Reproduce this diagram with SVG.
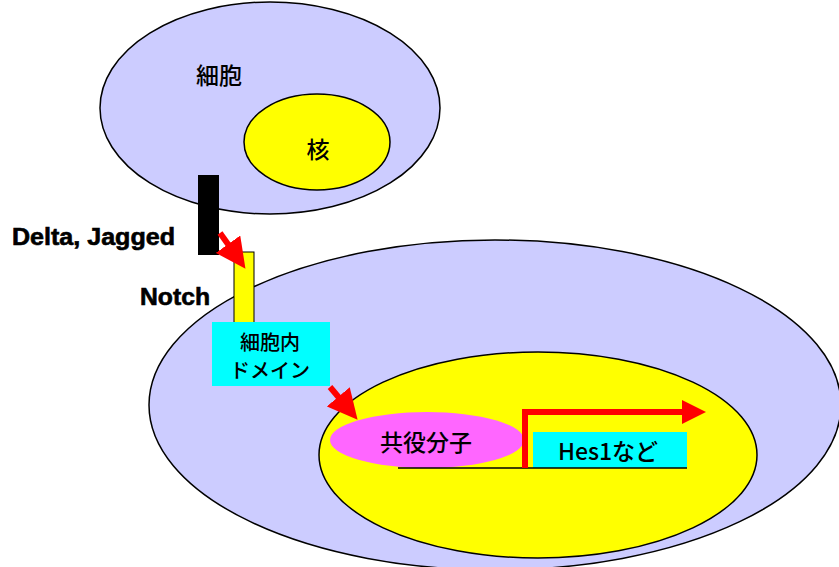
<svg xmlns="http://www.w3.org/2000/svg" width="839" height="567" viewBox="0 0 839 567">
<defs>
<style>
.cell{fill:#ccccff;stroke:#000;stroke-width:1.5}
.nuc{fill:#ffff00;stroke:#000;stroke-width:1.5}
.jp{font-family:"Noto Sans CJK JP","Noto Sans",sans-serif;font-size:23px;font-weight:500;fill:#000;text-anchor:middle}
.sm{font-size:20px}
.lbl{font-family:"Liberation Sans",Arial,sans-serif;font-weight:bold;font-size:23px;fill:#000;stroke:#000;stroke-width:0.6}
.red{stroke:#ff0000;stroke-width:6;fill:none}
</style>
<marker id="ah" markerWidth="5" markerHeight="5" refX="2" refY="2.5" orient="auto" markerUnits="strokeWidth">
<path d="M0,0 L5,2.5 L0,5 Z" fill="#ff0000"/>
</marker>
<marker id="ah2" markerWidth="4" markerHeight="4" refX="1" refY="2" orient="auto" markerUnits="strokeWidth">
<path d="M0,0 L4,2 L0,4 Z" fill="#ff0000"/>
</marker>
</defs>
<g id="cell-top">
<ellipse class="cell" cx="270" cy="108" rx="170" ry="106"/>
<text class="jp" x="219" y="84">細胞</text>
</g>
<g id="nucleus-top">
<ellipse class="nuc" cx="317" cy="142" rx="73" ry="48"/>
<text class="jp" x="318" y="158">核</text>
</g>
<g id="cell-bottom">
<ellipse class="cell" cx="495" cy="405" rx="346" ry="165"/>
</g>
<g id="nucleus-bottom">
<ellipse class="nuc" cx="538" cy="455" rx="219" ry="103"/>
</g>
<g id="delta">
<rect x="198" y="175" width="21" height="80" fill="#000"/>
<text class="lbl" x="12" y="245" textLength="163" lengthAdjust="spacingAndGlyphs">Delta, Jagged</text>
</g>
<g id="notch">
<rect x="234" y="252" width="20" height="72" fill="#ffff00" stroke="#000" stroke-width="1"/>
<text class="lbl" x="140" y="305" textLength="70" lengthAdjust="spacingAndGlyphs">Notch</text>
</g>
<g id="intracellular-domain">
<rect x="212" y="322" width="118" height="64" fill="#00ffff"/>
<text class="jp sm" x="270" y="350">細胞内</text>
<text class="jp sm" x="270" y="378">ドメイン</text>
</g>
<g id="coactivator">
<ellipse cx="427" cy="440" rx="97" ry="28" fill="#ff66ff"/>
<text class="jp" x="426" y="451">共役分子</text>
</g>
<g id="hes1">
<rect x="533" y="432" width="154" height="36" fill="#00ffff"/>
<text class="jp" x="608" y="460">Hes1など</text>
</g>
<g id="connectors">
<line x1="398" y1="468" x2="687" y2="468" stroke="#000" stroke-width="1.5"/>
<line class="red" x1="220" y1="233" x2="235" y2="254" marker-end="url(#ah)"/>
<line class="red" x1="330" y1="387" x2="346" y2="406" marker-end="url(#ah)"/>
<polyline class="red" points="525,468 525,412 688,412" stroke-width="3" marker-end="url(#ah2)"/>
</g>
</svg>
